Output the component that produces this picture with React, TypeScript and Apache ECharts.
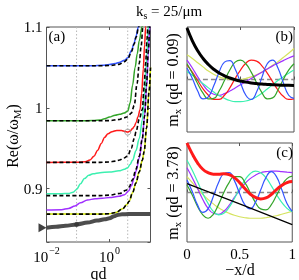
import React, { useEffect, useRef } from "react";
import * as echarts from "echarts";

const SERIF = '"Liberation Serif", "DejaVu Serif", serif';

// ---------- panel (a): Re(ω/ωM) vs qd ----------
const qdRange = [0.01, 20];
const yRangeA = [0.834, 1.1];
const markedQd = [0.09, 3.78];

const blueSolid = [[0.01,1.052],[0.1,1.052],[0.3,1.0522],[0.6,1.0527],[1,1.0535],[1.5,1.0548],[2,1.0562],[3,1.059],[3.8,1.062],[5,1.071],[6,1.08],[7,1.089],[8.2,1.1],[10,1.118]];
const blueDashed = [[0.01,1.052],[0.1,1.052],[0.5,1.052],[1,1.0523],[2,1.0538],[3,1.0572],[3.8,1.0605],[5,1.0695],[6,1.0785],[7,1.0875],[8.4,1.1],[10,1.118]];
const greenSolid = [[0.01,0.984],[0.1,0.984],[0.3,0.9843],[0.5,0.985],[0.7,0.9865],[1,0.9885],[1.5,0.9908],[2.1,0.992],[2.9,0.9935],[3.8,0.996],[4.5,1.006],[5.4,1.028],[6.5,1.05],[7.6,1.067],[8.8,1.083],[10.7,1.1],[12,1.11]];
const greenDashed = [[0.01,0.984],[0.5,0.984],[1,0.9842],[2,0.9855],[2.6,0.987],[3.8,0.989],[4.9,0.9935],[6.1,1.003],[7.5,1.03],[8.8,1.055],[10,1.075],[11.5,1.1],[13,1.118]];
const redSolid = [[0.01,0.9325],[0.1,0.9326],[0.17,0.9332],[0.24,0.9355],[0.32,0.94],[0.42,0.9475],[0.55,0.956],[0.7,0.9635],[0.9,0.968],[1.2,0.9705],[1.7,0.972],[2.4,0.9718],[3.1,0.9708],[3.78,0.97],[4.5,0.9712],[5.3,0.974],[6.1,0.977],[7,0.982],[8,0.989],[9.3,0.9975],[10.5,1.018],[11.8,1.048],[13,1.078],[14,1.1],[15,1.12]];
const redDashed = [[0.01,0.9325],[0.5,0.9325],[1,0.933],[1.5,0.934],[2.1,0.9355],[2.8,0.9378],[3.8,0.9405],[4.9,0.95],[6.1,0.962],[7,0.971],[8.8,0.986],[11,0.998],[12.5,1.025],[14,1.055],[15.5,1.085],[16.5,1.1],[18,1.12]];
const cyanSolid = [[0.01,0.8938],[0.03,0.8938],[0.05,0.894],[0.07,0.8955],[0.09,0.899],[0.12,0.906],[0.16,0.9125],[0.22,0.9165],[0.3,0.9185],[0.5,0.9198],[1,0.9205],[2,0.922],[3,0.924],[3.8,0.926],[4.5,0.93],[5.4,0.935],[6.9,0.947],[8.8,0.962],[11,0.985],[13,1.02],[15,1.06],[17,1.1],[18.5,1.13]];
const cyanDashed = [[0.01,0.8914],[0.5,0.8914],[1,0.892],[2.1,0.894],[3.35,0.898],[4.2,0.902],[5.4,0.911],[6.9,0.924],[8.8,0.94],[11,0.962],[13,0.99],[15,1.03],[17,1.07],[19,1.1],[20,1.12]];
const purpleSolid = [[0.01,0.8735],[0.03,0.874],[0.05,0.8755],[0.08,0.8785],[0.12,0.8825],[0.2,0.886],[0.35,0.8875],[0.6,0.8882],[1,0.889],[2,0.8905],[3,0.8925],[4,0.897],[5,0.904],[6,0.913],[7,0.922],[8.8,0.938],[11,0.962],[13,0.99],[15,1.025],[17,1.065],[19,1.1],[20,1.12]];
const yellowSolid = [[0.01,0.8685],[0.5,0.8685],[1,0.869],[1.6,0.8705],[2.6,0.875],[3.5,0.88],[4.2,0.8845],[5.4,0.895],[6.9,0.907],[8.8,0.921],[11,0.935],[12.6,0.946],[15,0.975],[18,1.02],[20,1.05]];
const surfaceMode = [[0.01,0.8517],[0.02,0.8528],[0.04,0.854],[0.09,0.8558],[0.2,0.858],[0.4,0.8605],[0.7,0.862],[1,0.8635],[1.4,0.8658],[1.8,0.8675],[2.5,0.8683],[4,0.8685],[20,0.8685]];
const surfaceStart = [[0.01, 0.8517]];
const surfaceDot = [[0.09, 0.8558]];
const redCircle = [[3.78, 0.97]];

// ---------- panels (b), (c): mode profiles vs -x/d ----------
const xPos = [0,0.05,0.1,0.15,0.2,0.25,0.3,0.35,0.4,0.45,0.5,0.55,0.6,0.65,0.7,0.75,0.8,0.85,0.9,0.95,1];

const bBlack  = [0.98,0.737,0.547,0.40,0.285,0.195,0.125,0.071,0.029,-0.004,-0.03,-0.05,-0.065,-0.077,-0.087,-0.094,-0.10,-0.105,-0.108,-0.11,-0.112];
const bYellow = [0.47,0.40,0.32,0.24,0.16,0.10,0.05,0.02,0.0,-0.01,0.0,0.02,0.05,0.09,0.14,0.20,0.27,0.34,0.42,0.50,0.59];
const bPurple = [0.37,0.22,0.05,-0.10,-0.22,-0.28,-0.30,-0.27,-0.22,-0.16,-0.10,-0.04,0.02,0.08,0.14,0.20,0.26,0.31,0.36,0.41,0.45];
const bCyan   = [0.15,0.08,0.0,-0.08,-0.16,-0.24,-0.31,-0.36,-0.40,-0.42,-0.42,-0.41,-0.38,-0.33,-0.26,-0.18,-0.10,-0.02,0.05,0.12,0.18];
const bRed    = [0.28,0.14,-0.02,-0.18,-0.30,-0.38,-0.38,-0.30,-0.16,0.02,0.18,0.31,0.37,0.35,0.26,0.12,-0.04,-0.20,-0.32,-0.38,-0.37];
const bGreen  = [0.30,0.12,-0.08,-0.26,-0.37,-0.36,-0.22,-0.02,0.18,0.33,0.37,0.30,0.14,-0.06,-0.25,-0.37,-0.35,-0.20,0.0,0.18,0.30];
const bBlue   = [0.22,0.02,-0.22,-0.37,-0.33,-0.12,0.14,0.33,0.36,0.20,-0.06,-0.30,-0.38,-0.24,0.04,0.30,0.37,0.22,-0.06,-0.30,-0.36];

const cRed    = [1.0,0.78,0.60,0.47,0.40,0.37,0.37,0.38,0.36,0.30,0.20,0.08,-0.03,-0.10,-0.13,-0.11,-0.04,0.06,0.14,0.20,0.22];
const cBlack  = [[0,0.18],[0.5,-0.23],[1,-0.65]];
const cYellow = [0.32,0.20,0.08,-0.04,-0.14,-0.23,-0.31,-0.37,-0.42,-0.46,-0.49,-0.51,-0.52,-0.52,-0.52,-0.51,-0.49,-0.47,-0.44,-0.41,-0.38];
const cPurple = [0.50,0.30,0.08,-0.14,-0.32,-0.42,-0.44,-0.38,-0.26,-0.10,0.05,0.18,0.28,0.35,0.40,0.42,0.43,0.43,0.42,0.41,0.40];
const cCyan   = [0.65,0.45,0.22,-0.02,-0.22,-0.38,-0.45,-0.42,-0.30,-0.12,0.08,0.25,0.38,0.43,0.40,0.30,0.14,-0.04,-0.20,-0.32,-0.39];
const cGreen  = [0.15,-0.05,-0.28,-0.45,-0.52,-0.44,-0.24,0.0,0.20,0.32,0.32,0.20,0.0,-0.20,-0.33,-0.35,-0.25,-0.06,0.14,0.28,0.33];
const cBlue   = [0.25,0.02,-0.25,-0.40,-0.33,-0.08,0.20,0.38,0.40,0.24,-0.02,-0.25,-0.33,-0.20,0.05,0.30,0.42,0.32,0.06,-0.22,-0.38];
const zeroLine = [[0,0],[1,0]];

const C = {
  blue: "#3355ff", green: "#34a52a", red: "#ff1a1a", cyan: "#3cf0b0",
  purple: "#a030ff", yellow: "#cde200", yellowLight: "#d5e35e",
  surface: "#4d4d4d", frame: "#555555",
};

const zip = (ys: number[]) => xPos.map((x, i) => [x, ys[i]]);

export default function App() {
  const ref = useRef<HTMLDivElement>(null);
  useEffect(() => {
    const chart = echarts.init(ref.current!, null, { renderer: "svg" });

    const lineA = (data: any, color: string, width: number, dashed = false, z = 3) => ({
      type: "line", xAxisIndex: 0, yAxisIndex: 0, data, symbol: "none", silent: true,
      smooth: 0.35, smoothMonotone: "x", z,
      lineStyle: { color, width, type: dashed ? [4, 2.5] : "solid" },
    });
    const lineP = (xi: number, yi: number, data: any, color: string, width: number, type: any = "solid", z = 3) => ({
      type: "line", xAxisIndex: xi, yAxisIndex: yi, data, symbol: "none", silent: true,
      smooth: 0.5, z, lineStyle: { color, width, type },
    });

    const tickLabelRich = {
      b: { fontFamily: SERIF, fontSize: 15, color: "#000", verticalAlign: "top", lineHeight: 14, padding: [4, 0, 0, 0] },
      p: { fontFamily: SERIF, fontSize: 10, color: "#000", verticalAlign: "top", lineHeight: 10, padding: [0, 0, 0, 1] },
    };
    const gridBase = { show: true, borderColor: C.frame, borderWidth: 1, backgroundColor: "transparent" };
    const noLine = { show: false };
    const inTick = { show: true, inside: true, length: 3, lineStyle: { color: C.frame } };

    const txt = (x: number, y: number, text: string, rich: any, align = "center", rotation = 0) => ({
      type: "text", x, y, rotation, silent: true,
      style: { text, rich, align, verticalAlign: "middle", textAlign: align, textVerticalAlign: "middle", fill: "#000" },
    });
    const R = {
      m: { fontFamily: SERIF, fontSize: 16, color: "#000", verticalAlign: "top", lineHeight: 14 },
      s: { fontFamily: SERIF, fontSize: 11, color: "#000", verticalAlign: "top", lineHeight: 10, padding: [7, 0, 0, 0] },
    };
    const Rt = {
      m: { fontFamily: SERIF, fontSize: 15, color: "#000", verticalAlign: "top", lineHeight: 14 },
      s: { fontFamily: SERIF, fontSize: 10, color: "#000", verticalAlign: "top", lineHeight: 10, padding: [7, 0, 0, 0] },
    };

    const option: any = {
      animation: false,
      grid: [
        { ...gridBase, left: 46.5, top: 27, width: 104, height: 215 },
        { ...gridBase, left: 187, top: 27, width: 107, height: 105 },
        { ...gridBase, left: 187, top: 143, width: 107, height: 99 },
      ],
      xAxis: [
        { type: "log", logBase: 100, gridIndex: 0, min: qdRange[0], max: qdRange[1], axisLine: noLine, splitLine: noLine,
          axisTick: inTick,
          axisLabel: { margin: 3, formatter: (v: number) => (Math.abs(v - 0.01) < 1e-9 ? "{b|10}{p|−2}" : Math.abs(v - 1) < 1e-9 ? "{b|10}{p|0}" : ""), rich: tickLabelRich } },
        { type: "log", logBase: 100, gridIndex: 0, position: "top", min: qdRange[0], max: qdRange[1], axisLine: noLine, splitLine: noLine, axisTick: inTick, axisLabel: { show: false } },
        { type: "value", gridIndex: 1, min: 0, max: 1, interval: 0.5, axisLine: noLine, splitLine: noLine, axisTick: inTick, axisLabel: { show: false } },
        { type: "value", gridIndex: 2, min: 0, max: 1, interval: 0.5, axisLine: noLine, splitLine: noLine, axisTick: inTick,
          axisLabel: { margin: 5, fontFamily: SERIF, fontSize: 15, lineHeight: 13, color: "#000", formatter: (v: number) => String(v) } },
        { type: "value", gridIndex: 1, position: "top", min: 0, max: 1, interval: 0.5, axisLine: noLine, splitLine: noLine, axisTick: inTick, axisLabel: { show: false } },
        { type: "value", gridIndex: 2, position: "top", min: 0, max: 1, interval: 0.5, axisLine: noLine, splitLine: noLine, axisTick: inTick, axisLabel: { show: false } },
      ],
      yAxis: [
        { type: "value", gridIndex: 0, min: yRangeA[0], max: yRangeA[1], splitNumber: 3, axisLine: noLine, splitLine: noLine, axisTick: inTick,
          axisLabel: { margin: 4, fontFamily: SERIF, fontSize: 15, color: "#000",
            formatter: (v: number) => (Math.abs(v * 10 - Math.round(v * 10)) < 1e-6 ? String(Math.round(v * 10) / 10) : "") } },
        { type: "value", gridIndex: 0, position: "right", min: yRangeA[0], max: yRangeA[1], splitNumber: 3, axisLine: noLine, splitLine: noLine, axisTick: inTick, axisLabel: { show: false } },
        { type: "value", gridIndex: 1, min: -1, max: 1, axisLine: noLine, splitLine: noLine, axisTick: { show: false }, axisLabel: { show: false } },
        { type: "value", gridIndex: 2, min: -1, max: 1, axisLine: noLine, splitLine: noLine, axisTick: { show: false }, axisLabel: { show: false } },
      ],
      series: [
        ...markedQd.map((q) => ({
          type: "line", xAxisIndex: 0, yAxisIndex: 0, symbol: "none", silent: true, z: 1,
          data: [[q, yRangeA[0]], [q, yRangeA[1]]], lineStyle: { color: "#b8b8b8", width: 1, type: [1.5, 2] },
        })),
        lineA(blueSolid, C.blue, 1.5),
        lineA(greenSolid, C.green, 1.5),
        lineA(redSolid, C.red, 1.5),
        lineA(cyanSolid, C.cyan, 1.5),
        lineA(purpleSolid, C.purple, 1.5),
        lineA(yellowSolid, C.yellow, 1.5),
        lineA(surfaceMode, C.surface, 4, false, 4),
        lineA(blueDashed, "#000", 1.6, true, 5),
        lineA(greenDashed, "#000", 1.6, true, 5),
        lineA(redDashed, "#000", 1.6, true, 5),
        lineA(cyanDashed, "#000", 1.6, true, 5),
        lineA(yellowSolid, "#000", 1.6, true, 5),
        { type: "scatter", xAxisIndex: 0, yAxisIndex: 0, data: surfaceStart, symbol: "triangle", symbolSize: [9, 8], symbolRotate: -90, symbolOffset: [-4, 0], clip: false, silent: true, z: 6, itemStyle: { color: "#111" } },
        { type: "scatter", xAxisIndex: 0, yAxisIndex: 0, data: surfaceDot, symbol: "circle", symbolSize: 5, silent: true, z: 6, itemStyle: { color: "#333" } },
        { type: "scatter", xAxisIndex: 0, yAxisIndex: 0, data: redCircle, symbol: "circle", symbolSize: 6, silent: true, z: 6, itemStyle: { color: "rgba(0,0,0,0)", borderColor: "#888", borderWidth: 1 } },

        lineP(2, 2, zeroLine, "#888", 1.5, [5, 3], 2),
        lineP(2, 2, zip(bYellow), C.yellowLight, 1.2),
        lineP(2, 2, zip(bPurple), C.purple, 1.2),
        lineP(2, 2, zip(bCyan), C.cyan, 1.2),
        lineP(2, 2, zip(bRed), C.red, 1.2),
        lineP(2, 2, zip(bGreen), C.green, 1.2),
        lineP(2, 2, zip(bBlue), C.blue, 1.2),
        lineP(2, 2, zip(bBlack), "#000", 3, "solid", 4),

        lineP(3, 3, zeroLine, "#888", 1.5, [5, 3], 2),
        lineP(3, 3, zip(cYellow), C.yellowLight, 1.2),
        lineP(3, 3, zip(cPurple), C.purple, 1.2),
        lineP(3, 3, zip(cCyan), C.cyan, 1.2),
        lineP(3, 3, zip(cGreen), C.green, 1.2),
        lineP(3, 3, zip(cBlue), C.blue, 1.2),
        lineP(3, 3, cBlack, "#000", 1.2),
        lineP(3, 3, zip(cRed), C.red, 3, "solid", 4),
      ],
      graphic: [
        txt(169, 10, "{m|k}{s|s}{m| = 25/μm}", Rt),
        txt(11, 136, "{m|Re(ω/ω}{s|M}{m|)}", R, "center", Math.PI / 2),
        txt(98.5, 272, "{m|qd}", R),
        txt(48.5, 35, "{m|(a)}", Rt, "left"),
        txt(293, 35, "{m|(b)}", Rt, "right"),
        txt(293, 151, "{m|(c)}", Rt, "right"),
        txt(171, 80, "{m|m}{s|x}{m| (qd = 0.09)}", R, "center", Math.PI / 2),
        txt(171, 193, "{m|m}{s|x}{m| (qd = 3.78)}", R, "center", Math.PI / 2),
        txt(240, 268.5, "{m|−x/d}", R),
      ],
    };
    chart.setOption(option);
    return () => chart.dispose();
  }, []);
  return <div ref={ref} style={{ position: "fixed", left: 0, top: 0, width: 299, height: 280 }} />;
}
